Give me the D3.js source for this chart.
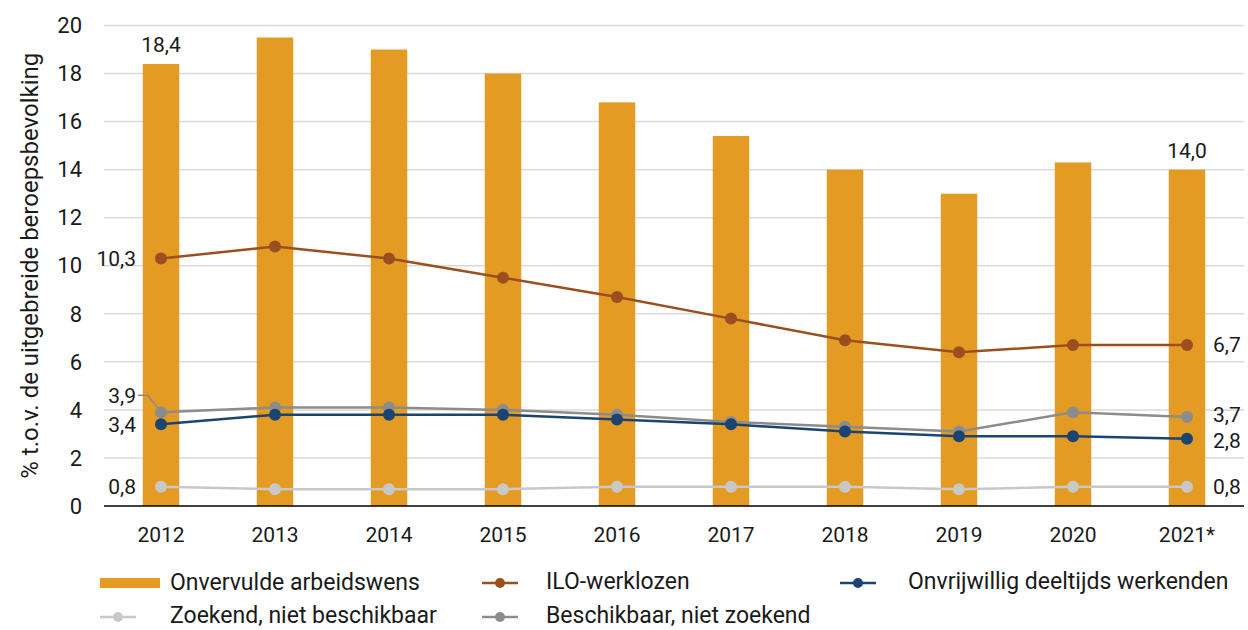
<!DOCTYPE html>
<html>
<head>
<meta charset="utf-8">
<script src="https://cdn.jsdelivr.net/npm/d3@7"></script>
<style>
  body { margin: 0; background: #fff; }
  svg text { font-family: Roboto, "Noto Sans", sans-serif; fill: #1a1a1a; }
</style>
</head>
<body>
<svg id="chart" width="1248" height="630"></svg>
<script>
const years = ["2012", "2013", "2014", "2015", "2016", "2017", "2018", "2019", "2020", "2021*"];
const onvervuld = [18.4, 19.5, 19.0, 18.0, 16.8, 15.4, 14.0, 13.0, 14.3, 14.0];
const iloWerklozen = [10.3, 10.8, 10.3, 9.5, 8.7, 7.8, 6.9, 6.4, 6.7, 6.7];
const onvrijwillig = [3.4, 3.8, 3.8, 3.8, 3.6, 3.4, 3.1, 2.9, 2.9, 2.8];
const beschikbaar = [3.9, 4.1, 4.1, 4.0, 3.8, 3.5, 3.3, 3.1, 3.9, 3.7];
const zoekend = [0.8, 0.7, 0.7, 0.7, 0.8, 0.8, 0.8, 0.7, 0.8, 0.8];
const yTicks = [0, 2, 4, 6, 8, 10, 12, 14, 16, 18, 20];

const lines = [
  { name: "Zoekend, niet beschikbaar", values: zoekend, color: "#c8c8c8" },
  { name: "Beschikbaar, niet zoekend", values: beschikbaar, color: "#8c8c8c" },
  { name: "Onvrijwillig deeltijds werkenden", values: onvrijwillig, color: "#1b4472" },
  { name: "ILO-werklozen", values: iloWerklozen, color: "#9c4f1e" }
];
const barColor = "#e39b24";

const svg = d3.select("#chart");
const plotLeft = 104, plotRight = 1244, plotTop = 25.5, plotBottom = 506;
const numSize = 21;

const x = d3.scaleBand().domain(years).range([plotLeft, plotRight]).paddingInner(0.68).paddingOuter(0.34);
const y = d3.scaleLinear().domain([0, 20]).range([plotBottom, plotTop]);
const cx = d => x(d) + x.bandwidth() / 2;

// gridlines
svg.append("g").selectAll("line").data(yTicks.filter(t => t > 0)).join("line")
  .attr("x1", plotLeft).attr("x2", plotRight)
  .attr("y1", d => y(d)).attr("y2", d => y(d))
  .attr("stroke", "#d9d9d9").attr("stroke-width", 1.5);

// y tick labels
svg.append("g").selectAll("text").data(yTicks).join("text")
  .attr("x", 82).attr("y", d => y(d)).attr("dy", "0.35em")
  .attr("text-anchor", "end").attr("font-size", 22)
  .text(d => d);

// y title
svg.append("text")
  .attr("transform", `translate(30,${(plotTop + plotBottom) / 2}) rotate(-90)`)
  .attr("text-anchor", "middle").attr("dy", "0.35em").attr("font-size", 24)
  .text("% t.o.v. de uitgebreide beroepsbevolking");

// bars
svg.append("g").selectAll("rect").data(onvervuld).join("rect")
  .attr("x", (d, i) => x(years[i]))
  .attr("width", x.bandwidth())
  .attr("y", d => y(d))
  .attr("height", d => y(0) - y(d))
  .attr("fill", barColor);

// axis line
svg.append("line").attr("x1", plotLeft).attr("x2", plotRight)
  .attr("y1", plotBottom).attr("y2", plotBottom)
  .attr("stroke", "#000").attr("stroke-width", 1.5);

// x labels
svg.append("g").selectAll("text").data(years).join("text")
  .attr("x", d => cx(d)).attr("y", 535).attr("dy", "0.35em")
  .attr("text-anchor", "middle").attr("font-size", numSize)
  .text(d => d);

// lines
const lineGen = d3.line().x((d, i) => cx(years[i])).y(d => y(d));
lines.forEach(s => {
  const g = svg.append("g");
  g.append("path").datum(s.values).attr("d", lineGen)
    .attr("fill", "none").attr("stroke", s.color).attr("stroke-width", 2.5);
  g.selectAll("circle").data(s.values).join("circle")
    .attr("cx", (d, i) => cx(years[i])).attr("cy", d => y(d)).attr("r", 6)
    .attr("fill", s.color);
});

const fmt = v => d3.format(".1f")(v).replace(".", ",");
const first = years[0], last = years[years.length - 1];

// bar labels
svg.append("text").attr("x", cx(first)).attr("y", y(onvervuld[0]) - 12)
  .attr("text-anchor", "middle").attr("font-size", numSize).text(fmt(onvervuld[0]));
svg.append("text").attr("x", cx(last)).attr("y", y(onvervuld[onvervuld.length - 1]) - 12)
  .attr("text-anchor", "middle").attr("font-size", numSize).text(fmt(onvervuld[onvervuld.length - 1]));

// left labels (first year)
const leftLabels = [
  { v: iloWerklozen[0], dy: 0 },
  { v: beschikbaar[0], dy: -17 },
  { v: onvrijwillig[0], dy: 0 },
  { v: zoekend[0], dy: 0 }
];
leftLabels.forEach(l => {
  svg.append("text").attr("x", 136).attr("y", y(l.v) + l.dy).attr("dy", "0.35em")
    .attr("text-anchor", "end").attr("font-size", numSize).text(fmt(l.v));
});
// leader line for 3,9
svg.append("path")
  .attr("d", `M138,${y(beschikbaar[0]) - 17} L148,${y(beschikbaar[0]) - 17} L${cx(first)},${y(beschikbaar[0])}`)
  .attr("fill", "none").attr("stroke", "#8c8c8c").attr("stroke-width", 1.5);

// right labels (last year)
const n = years.length - 1;
const rightLabels = [
  { v: iloWerklozen[n], dy: 0 },
  { v: beschikbaar[n], dy: -2 },
  { v: onvrijwillig[n], dy: 2 },
  { v: zoekend[n], dy: 0 }
];
rightLabels.forEach(l => {
  svg.append("text").attr("x", 1213).attr("y", y(l.v) + l.dy).attr("dy", "0.35em")
    .attr("font-size", numSize).text(fmt(l.v));
});

// legend
const legend = svg.append("g");
legend.append("rect").attr("x", 100).attr("y", 578).attr("width", 60).attr("height", 10).attr("fill", barColor);
legend.append("text").attr("x", 170).attr("y", 590).attr("font-size", 23).text("Onvervulde arbeidswens");
const legendItems = [
  { s: lines[3], x: 482, y: 583, tx: 546 },
  { s: lines[2], x: 840, y: 583, tx: 908 },
  { s: lines[0], x: 100, y: 617, tx: 170 },
  { s: lines[1], x: 482, y: 617, tx: 546 }
];
legendItems.forEach(it => {
  legend.append("line").attr("x1", it.x).attr("x2", it.x + 36).attr("y1", it.y).attr("y2", it.y)
    .attr("stroke", it.s.color).attr("stroke-width", 2.5);
  legend.append("circle").attr("cx", it.x + 18).attr("cy", it.y).attr("r", 5).attr("fill", it.s.color);
  legend.append("text").attr("x", it.tx).attr("y", it.y + 6).attr("font-size", 23).text(it.s.name);
});
</script>
</body>
</html>
